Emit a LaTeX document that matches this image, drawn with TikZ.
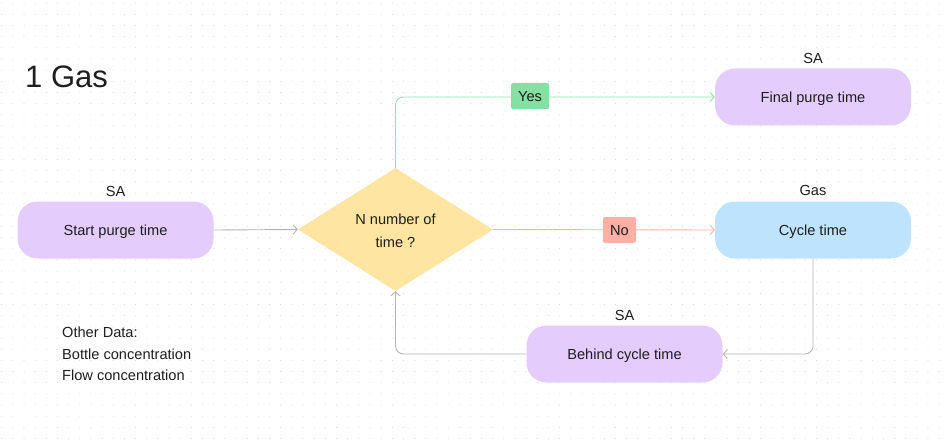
\documentclass[tikz,border=0pt]{standalone}
\usepackage{fontspec}
\setmainfont{Liberation Sans}
\usetikzlibrary{arrows.meta,shapes.geometric}
\definecolor{lav}{HTML}{E4CCFD}
\definecolor{sky}{HTML}{BDE3FD}
\definecolor{butter}{HTML}{FFE5A1}
\definecolor{yesfill}{HTML}{85E0A3}
\definecolor{yesline}{HTML}{8EE6A9}
\definecolor{nofill}{HTML}{FFAFA3}
\definecolor{noline}{HTML}{FFB0A6}
\definecolor{grayline}{HTML}{B5B5B5}
\definecolor{ink}{HTML}{1E1E1E}
\definecolor{dotc}{HTML}{D2D2D2}
\tikzset{
  x=1pt, y=-1pt,
  txt/.style={font=\fontsize{14.6}{17}\selectfont, text=ink},
  proc/.style={txt, rounded corners=20pt, minimum width=196pt, minimum height=57pt, inner sep=0pt, text height=12.5pt, text depth=2pt},
  tag/.style={txt, inner sep=0pt},
  conn/.style={line width=0.9pt, rounded corners=8pt, -{Straight Barb[length=4pt,width=9pt]}},
  badge/.style={txt, rounded corners=2pt, inner sep=0pt, minimum height=26pt, text height=12.5pt, text depth=2pt},
}
\begin{document}
\begin{tikzpicture}
\useasboundingbox (0,0) rectangle (947,441);
\fill[white] (0,0) rectangle (947,441);
\foreach \i in {0,...,84} {
  \foreach \j in {0,...,39} {
    \fill[dotc] (1.7+\i*11.16, 3.2+\j*11.16) circle (0.5pt);
  }
}
\node[anchor=west, font=\fontsize{31}{38}\selectfont, text=ink, inner sep=0pt] (title) at (25,77) {1 Gas};

\node[proc, fill=lav] (start) at (115.5,230) {Start purge time};
\node[tag] (startl) at (115.5,191) {SA};

\node[diamond, fill=butter, minimum width=195pt, minimum height=123pt, inner sep=0pt, aspect=1.585] (dec) at (395.5,229.5) {};
\node[txt, align=center] (dect) at (395.5,230.5) {N number of\\[6pt]time ?};

\node[proc, fill=lav] (fin) at (813,97) {Final purge time};
\node[tag] (finl) at (813,58) {SA};

\node[proc, fill=sky] (cyc) at (813,230) {Cycle time};
\node[tag] (cycl) at (813,190) {Gas};

\node[proc, fill=lav] (beh) at (624.5,354) {Behind cycle time};
\node[tag] (behl) at (624.5,315) {SA};

\node[txt, anchor=north west, align=left, inner sep=0pt] (other) at (62,327) {Other Data:\\[4.5pt]Bottle concentration\\[4.5pt]Flow concentration};

\draw[conn, grayline] (start.east) -- (dec.west);
\draw[conn, yesline] (dec.north) |- (fin.west);
\draw[conn, noline] (dec.east) -- (cyc.west);
\draw[conn, grayline] (cyc.south) |- (beh.east);
\draw[conn, grayline] (beh.west) -| (dec.south);

\node[badge, fill=yesfill, minimum width=38pt] (yes) at (530,96) {Yes};
\node[badge, fill=nofill, minimum width=33pt] (no) at (619.5,230) {No};
\end{tikzpicture}
\end{document}
